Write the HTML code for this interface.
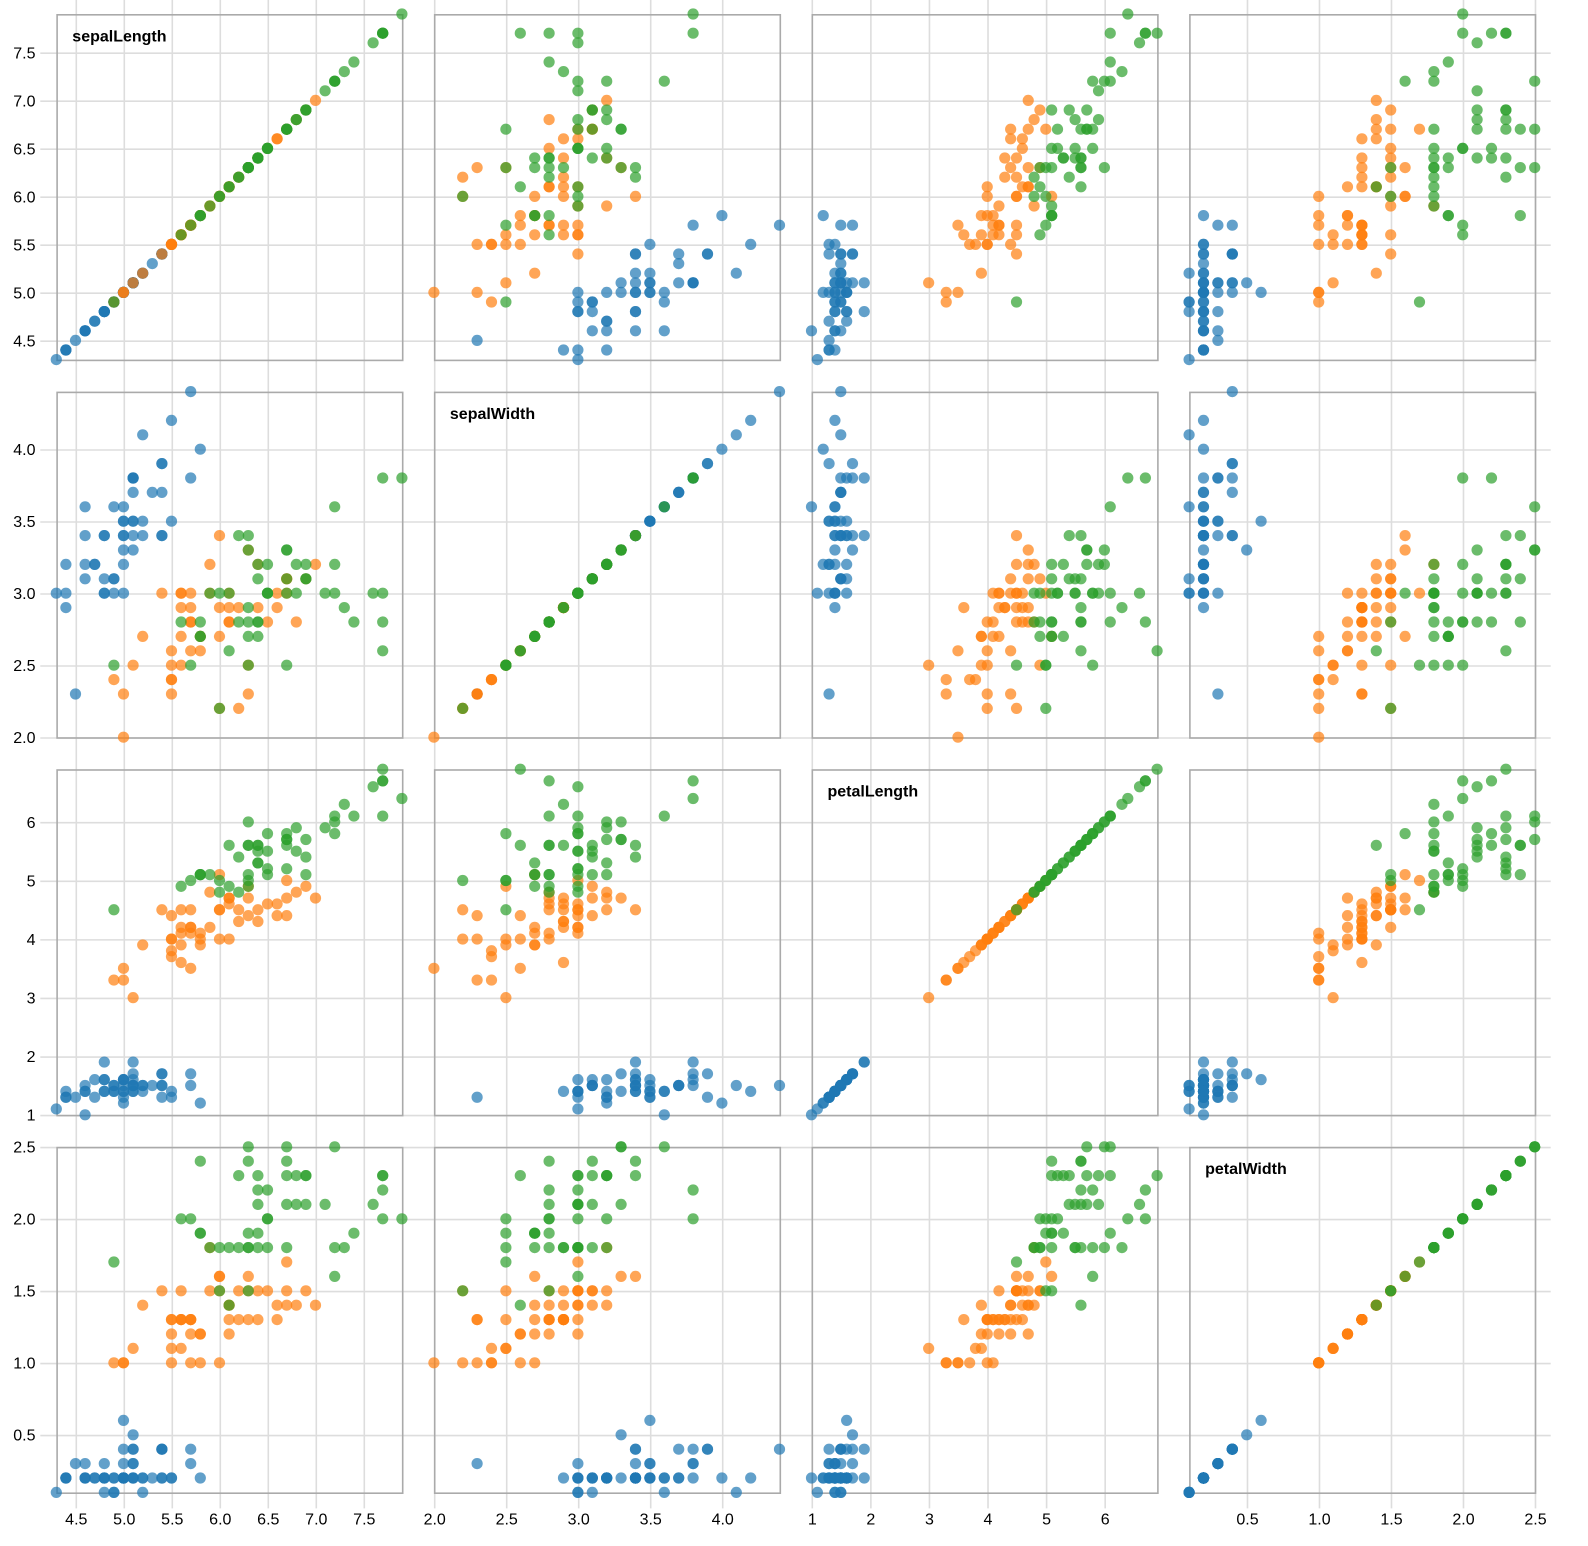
<!DOCTYPE html>
<html><head><meta charset="utf-8">
<style>
html,body{margin:0;padding:0;background:#fff;}
svg{display:block;}
text{font-family:"Liberation Sans",Arial,Helvetica,sans-serif;}
</style></head>
<body>
<svg id="s" width="1588" height="1546" viewBox="0 0 1588 1546" xmlns="http://www.w3.org/2000/svg">
<g transform="translate(40.3,-2) scale(1.6)" font-size="10">
<g id="grid" stroke="#ddd" stroke-width="1"></g>
<g fill="#000" text-anchor="middle">
<text x="22.5" y="954.1">4.5</text>
<text x="52.5" y="954.1">5.0</text>
<text x="82.5" y="954.1">5.5</text>
<text x="112.5" y="954.1">6.0</text>
<text x="142.5" y="954.1">6.5</text>
<text x="172.5" y="954.1">7.0</text>
<text x="202.5" y="954.1">7.5</text>
<text x="246.5" y="954.1">2.0</text>
<text x="291.5" y="954.1">2.5</text>
<text x="336.5" y="954.1">3.0</text>
<text x="381.5" y="954.1">3.5</text>
<text x="426.5" y="954.1">4.0</text>
<text x="482.5" y="954.1">1</text>
<text x="519.1" y="954.1">2</text>
<text x="555.7" y="954.1">3</text>
<text x="592.3" y="954.1">4</text>
<text x="628.9" y="954.1">5</text>
<text x="665.6" y="954.1">6</text>
<text x="754.5" y="954.1">0.5</text>
<text x="799.5" y="954.1">1.0</text>
<text x="844.5" y="954.1">1.5</text>
<text x="889.5" y="954.1">2.0</text>
<text x="934.5" y="954.1">2.5</text>
</g>
<g fill="#000" text-anchor="end">
<text x="-3" y="217.7">4.5</text>
<text x="-3" y="187.7">5.0</text>
<text x="-3" y="157.7">5.5</text>
<text x="-3" y="127.7">6.0</text>
<text x="-3" y="97.7">6.5</text>
<text x="-3" y="67.7">7.0</text>
<text x="-3" y="37.7">7.5</text>
<text x="-3" y="465.7">2.0</text>
<text x="-3" y="420.7">2.5</text>
<text x="-3" y="375.7">3.0</text>
<text x="-3" y="330.7">3.5</text>
<text x="-3" y="285.7">4.0</text>
<text x="-3" y="701.7">1</text>
<text x="-3" y="665.1">2</text>
<text x="-3" y="628.5">3</text>
<text x="-3" y="591.9">4</text>
<text x="-3" y="555.3">5</text>
<text x="-3" y="518.7">6</text>
<text x="-3" y="901.7">0.5</text>
<text x="-3" y="856.7">1.0</text>
<text x="-3" y="811.7">1.5</text>
<text x="-3" y="766.7">2.0</text>
<text x="-3" y="721.7">2.5</text>
</g>
<g id="cells"></g>
<g fill="#000" font-weight="bold">
<text x="20" y="27.1">sepalLength</text>
<text x="256" y="263.1">sepalWidth</text>
<text x="492" y="499.1">petalLength</text>
<text x="728" y="735.1">petalWidth</text>
</g>
</g>
</svg>
<script>
(function(){
var raw="5.1,3.5,1.4,0.2 4.9,3.0,1.4,0.2 4.7,3.2,1.3,0.2 4.6,3.1,1.5,0.2 5.0,3.6,1.4,0.2 5.4,3.9,1.7,0.4 4.6,3.4,1.4,0.3 5.0,3.4,1.5,0.2 4.4,2.9,1.4,0.2 4.9,3.1,1.5,0.1 "+
"5.4,3.7,1.5,0.2 4.8,3.4,1.6,0.2 4.8,3.0,1.4,0.1 4.3,3.0,1.1,0.1 5.8,4.0,1.2,0.2 5.7,4.4,1.5,0.4 5.4,3.9,1.3,0.4 5.1,3.5,1.4,0.3 5.7,3.8,1.7,0.3 5.1,3.8,1.5,0.3 "+
"5.4,3.4,1.7,0.2 5.1,3.7,1.5,0.4 4.6,3.6,1.0,0.2 5.1,3.3,1.7,0.5 4.8,3.4,1.9,0.2 5.0,3.0,1.6,0.2 5.0,3.4,1.6,0.4 5.2,3.5,1.5,0.2 5.2,3.4,1.4,0.2 4.7,3.2,1.6,0.2 "+
"4.8,3.1,1.6,0.2 5.4,3.4,1.5,0.4 5.2,4.1,1.5,0.1 5.5,4.2,1.4,0.2 4.9,3.1,1.5,0.2 5.0,3.2,1.2,0.2 5.5,3.5,1.3,0.2 4.9,3.6,1.4,0.1 4.4,3.0,1.3,0.2 5.1,3.4,1.5,0.2 "+
"5.0,3.5,1.3,0.3 4.5,2.3,1.3,0.3 4.4,3.2,1.3,0.2 5.0,3.5,1.6,0.6 5.1,3.8,1.9,0.4 4.8,3.0,1.4,0.3 5.1,3.8,1.6,0.2 4.6,3.2,1.4,0.2 5.3,3.7,1.5,0.2 5.0,3.3,1.4,0.2 "+
"7.0,3.2,4.7,1.4 6.4,3.2,4.5,1.5 6.9,3.1,4.9,1.5 5.5,2.3,4.0,1.3 6.5,2.8,4.6,1.5 5.7,2.8,4.5,1.3 6.3,3.3,4.7,1.6 4.9,2.4,3.3,1.0 6.6,2.9,4.6,1.3 5.2,2.7,3.9,1.4 "+
"5.0,2.0,3.5,1.0 5.9,3.0,4.2,1.5 6.0,2.2,4.0,1.0 6.1,2.9,4.7,1.4 5.6,2.9,3.6,1.3 6.7,3.1,4.4,1.4 5.6,3.0,4.5,1.5 5.8,2.7,4.1,1.0 6.2,2.2,4.5,1.5 5.6,2.5,3.9,1.1 "+
"5.9,3.2,4.8,1.8 6.1,2.8,4.0,1.3 6.3,2.5,4.9,1.5 6.1,2.8,4.7,1.2 6.4,2.9,4.3,1.3 6.6,3.0,4.4,1.4 6.8,2.8,4.8,1.4 6.7,3.0,5.0,1.7 6.0,2.9,4.5,1.5 5.7,2.6,3.5,1.0 "+
"5.5,2.4,3.8,1.1 5.5,2.4,3.7,1.0 5.8,2.7,3.9,1.2 6.0,2.7,5.1,1.6 5.4,3.0,4.5,1.5 6.0,3.4,4.5,1.6 6.7,3.1,4.7,1.5 6.3,2.3,4.4,1.3 5.6,3.0,4.1,1.3 5.5,2.5,4.0,1.3 "+
"5.5,2.6,4.4,1.2 6.1,3.0,4.6,1.4 5.8,2.6,4.0,1.2 5.0,2.3,3.3,1.0 5.6,2.7,4.2,1.3 5.7,3.0,4.2,1.2 5.7,2.9,4.2,1.3 6.2,2.9,4.3,1.3 5.1,2.5,3.0,1.1 5.7,2.8,4.1,1.3 "+
"6.3,3.3,6.0,2.5 5.8,2.7,5.1,1.9 7.1,3.0,5.9,2.1 6.3,2.9,5.6,1.8 6.5,3.0,5.8,2.2 7.6,3.0,6.6,2.1 4.9,2.5,4.5,1.7 7.3,2.9,6.3,1.8 6.7,2.5,5.8,1.8 7.2,3.6,6.1,2.5 "+
"6.5,3.2,5.1,2.0 6.4,2.7,5.3,1.9 6.8,3.0,5.5,2.1 5.7,2.5,5.0,2.0 5.8,2.8,5.1,2.4 6.4,3.2,5.3,2.3 6.5,3.0,5.5,1.8 7.7,3.8,6.7,2.2 7.7,2.6,6.9,2.3 6.0,2.2,5.0,1.5 "+
"6.9,3.2,5.7,2.3 5.6,2.8,4.9,2.0 7.7,2.8,6.7,2.0 6.3,2.7,4.9,1.8 6.7,3.3,5.7,2.1 7.2,3.2,6.0,1.8 6.2,2.8,4.8,1.8 6.1,3.0,4.9,1.8 6.4,2.8,5.6,2.1 7.2,3.0,5.8,1.6 "+
"7.4,2.8,6.1,1.9 7.9,3.8,6.4,2.0 6.4,2.8,5.6,2.2 6.3,2.8,5.1,1.5 6.1,2.6,5.6,1.4 7.7,3.0,6.1,2.3 6.3,3.4,5.6,2.4 6.4,3.1,5.5,1.8 6.0,3.0,4.8,1.8 6.9,3.1,5.4,2.1 "+
"6.7,3.1,5.6,2.4 6.9,3.1,5.1,2.3 5.8,2.7,5.1,1.9 6.8,3.2,5.9,2.3 6.7,3.3,5.7,2.5 6.7,3.0,5.2,2.3 6.3,2.5,5.0,1.9 6.5,3.0,5.2,2.0 6.2,3.4,5.4,2.3 5.9,3.0,5.1,1.8";
var data=raw.split(" ").map(function(r){return r.split(",").map(Number);});
var dom=[[4.3,7.9],[2.0,4.4],[1.0,6.9],[0.1,2.5]];
var ticks=[[4.5,5,5.5,6,6.5,7,7.5],[2,2.5,3,3.5,4],[1,2,3,4,5,6],[0.5,1,1.5,2,2.5]];
var S=236;
function sx(k,v){return 10+(v-dom[k][0])/(dom[k][1]-dom[k][0])*216;}
function sy(k,v){return 226-(v-dom[k][0])/(dom[k][1]-dom[k][0])*216;}
var g="";
for(var i=0;i<4;i++){
  for(var t=0;t<ticks[i].length;t++){
    var x=(i*S+sx(i,ticks[i][t])+0.5).toFixed(2);
    g+='<line x1="'+x+'" x2="'+x+'" y1="0" y2="944"/>';
    var y=(i*S+sy(i,ticks[i][t])+0.5).toFixed(2);
    g+='<line x1="0" x2="944" y1="'+y+'" y2="'+y+'"/>';
  }
}
document.getElementById("grid").innerHTML=g;
var col=["#1f77b4","#ff7f0e","#2ca02c"];
var c="";
for(var j=0;j<4;j++){
  for(var ii=0;ii<4;ii++){
    c+='<g transform="translate('+(ii*S)+','+(j*S)+')"><rect x="10.5" y="10.5" width="216" height="216" fill="none" stroke="#aaa"/>';
    for(var n=0;n<data.length;n++){
      var d=data[n];
      c+='<circle cx="'+sx(ii,d[ii]).toFixed(2)+'" cy="'+sy(j,d[j]).toFixed(2)+'" r="3.5" fill="'+col[Math.floor(n/50)]+'" fill-opacity="0.7"/>';
    }
    c+='</g>';
  }
}
document.getElementById("cells").innerHTML=c;
})();
</script>
</body></html>
